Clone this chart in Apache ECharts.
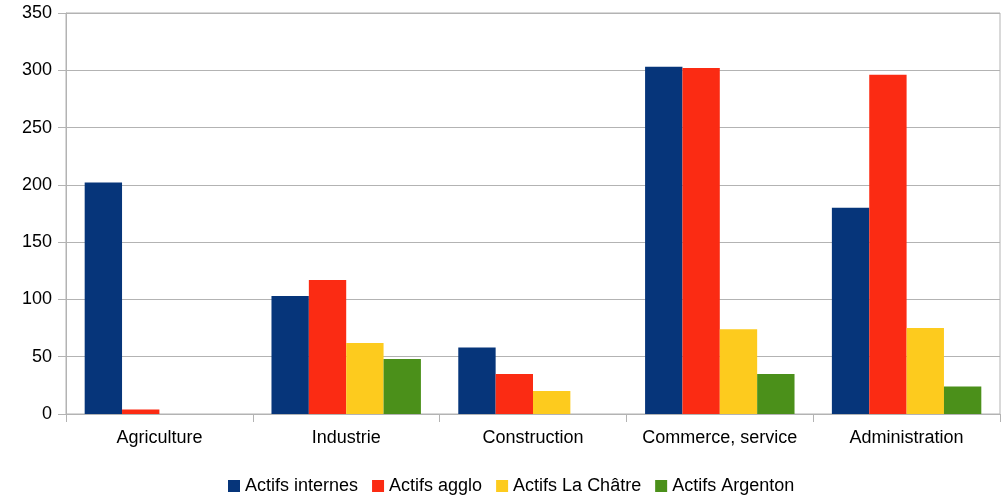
<!DOCTYPE html>
<html><head><meta charset="utf-8">
<script src="https://cdn.jsdelivr.net/npm/echarts@6/dist/echarts.min.js"></script>
<style>html,body{margin:0;padding:0;background:#fff}#c{width:1003px;height:496px}</style>
</head><body><div id="c"></div>
<script>
var categories = ["Agriculture", "Industrie", "Construction", "Commerce, service", "Administration"];
var seriesNames = ["Actifs internes", "Actifs agglo", "Actifs La Châtre", "Actifs Argenton"];
var actifsInternes = [202, 103, 58, 303, 180];
var actifsAgglo = [4, 117, 35, 302, 296];
var actifsLaChatre = [0, 62, 20, 74, 75];
var actifsArgenton = [0, 48, 0, 35, 24];
var yTicks = [0, 50, 100, 150, 200, 250, 300, 350];

var colors = ["#06357a", "#fb2b13", "#fdcb1e", "#4b901a"];
var values = [actifsInternes, actifsAgglo, actifsLaChatre, actifsArgenton];
var font = "'Liberation Sans', Arial, sans-serif";
var chart = echarts.init(document.getElementById('c'), null, {renderer: 'canvas'});
chart.setOption({
  animation: false,
  color: colors,
  grid: {left: 66, right: 3, top: 13, bottom: 82, show: true, borderColor: '#b3b3b3', borderWidth: 1},
  legend: {
    top: 475, left: 226, padding: 2, itemWidth: 12, itemHeight: 12, itemGap: 14,
    icon: 'rect',
    textStyle: {fontFamily: font, fontSize: 18, color: '#000'},
    data: seriesNames
  },
  xAxis: {
    type: 'category', data: categories,
    axisLine: {lineStyle: {color: '#b3b3b3'}},
    axisTick: {show: true, length: 8, interval: 0, lineStyle: {color: '#b3b3b3'}},
    axisLabel: {fontFamily: font, fontSize: 18, color: '#000', margin: 15, interval: 0}
  },
  yAxis: {
    type: 'value', min: yTicks[0], max: yTicks[yTicks.length - 1], interval: 50,
    axisLine: {show: true, lineStyle: {color: '#b3b3b3'}},
    axisTick: {show: true, length: 8, lineStyle: {color: '#b3b3b3'}},
    splitLine: {lineStyle: {color: '#b3b3b3'}},
    axisLabel: {fontFamily: font, fontSize: 18, color: '#000', margin: 14}
  },
  series: seriesNames.map(function (n, i) {
    return {name: n, type: 'bar', data: values[i], barGap: '0%', barCategoryGap: '20%'};
  })
});
</script></body></html>
